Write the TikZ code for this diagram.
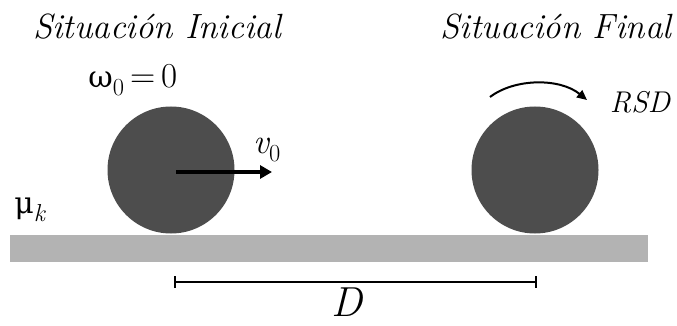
\documentclass[tikz,border=0pt]{standalone}
\usepackage{fontspec}
\newfontfamily\grk{DejaVu Serif}
\usetikzlibrary{arrows.meta}
\begin{document}
\begin{tikzpicture}[x=1pt,y=-1pt,
  ball/.style={circle,fill=ballgray,draw=none,minimum size=127pt,inner sep=0pt},
  lbl/.style={inner sep=0pt,font=\fontsize{35}{40}\selectfont}]
\definecolor{ballgray}{RGB}{77,77,77}
\definecolor{floorgray}{RGB}{179,179,179}
\useasboundingbox (0,0) rectangle (677,326);
\fill[floorgray] (10,235) rectangle (648,262);
\node[ball] (b1) at (171,170) {};
\node[ball] (b2) at (535,170) {};
\node[lbl] (t1) at (157,27) {\itshape Situación Inicial};
\node[lbl] (t2) at (556,27) {\itshape Situación Final};
\node[lbl] (w) at (133,80) {{\grk\fontsize{30}{36}\selectfont ω}\textsubscript{0}\,=\,0};
\node[lbl] (v) at (267,150) {\itshape v\textsubscript{\upshape 0}};
\node[lbl] (mu) at (30,210) {{\grk\fontsize{30}{36}\selectfont μ}\textsubscript{\itshape k}};
\node[lbl,font=\fontsize{30}{36}\selectfont] (rsd) at (640,102) {\itshape RSD};
\node[lbl,font=\fontsize{42}{46}\selectfont] (D) at (347,302) {\itshape D};
\coordinate (a0) at (176,172);
\coordinate (a1) at (272,172);
\draw[line width=3.5pt,-{Triangle[length=12pt,width=13pt]}] (a0) -- (a1);
\coordinate (r0) at (490,97);
\coordinate (r1) at (587,100);
\draw[line width=2pt,-{Triangle[length=10pt,width=9pt]}] (r0) .. controls (515,78) and (560,78) .. (r1);
\coordinate (d0) at (174,282);
\coordinate (d1) at (537,282);
\draw[line width=2pt,{Bar[width=12pt]}-{Bar[width=12pt]}] (d0) -- (d1);
\end{tikzpicture}
\end{document}
